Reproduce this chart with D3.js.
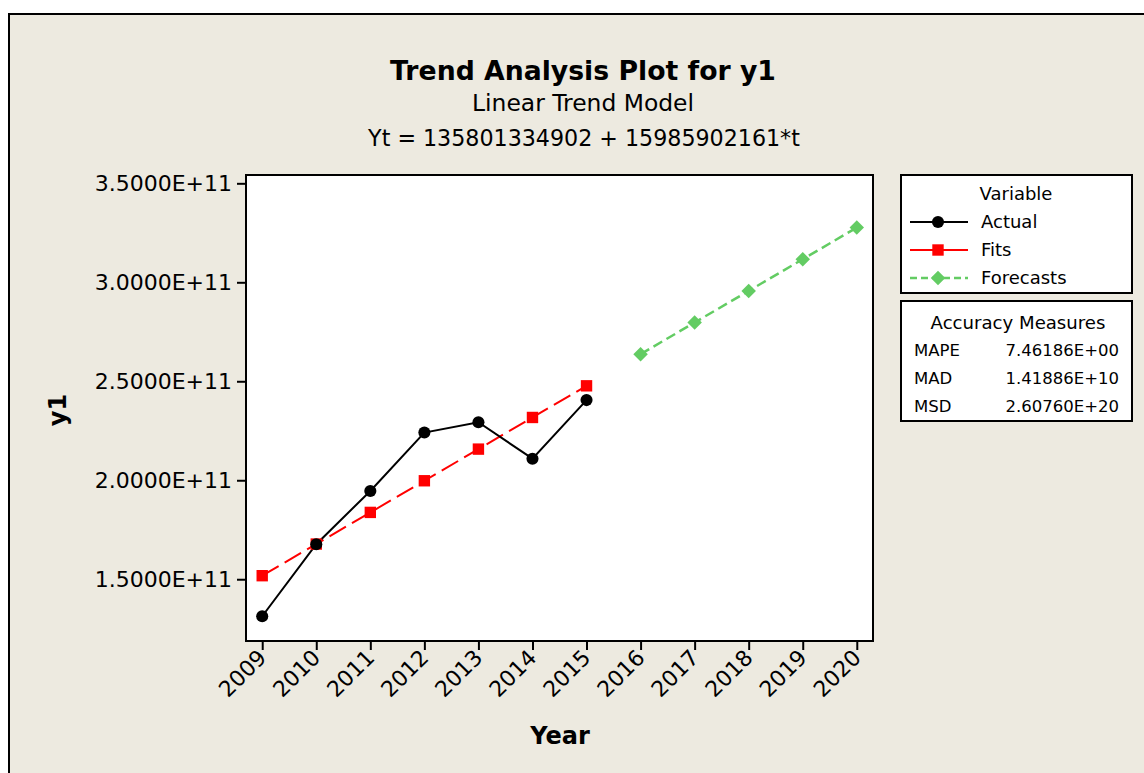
<!DOCTYPE html>
<html>
<head>
<meta charset="utf-8">
<script src="https://cdn.jsdelivr.net/npm/d3@7"></script>
<style>
  html, body { margin: 0; padding: 0; background: #ffffff; }
  svg { display: block; font-family: "DejaVu Sans", Verdana, sans-serif; }
</style>
</head>
<body>
<svg id="chart" width="1144" height="773"></svg>
<script>
// ---------- data ----------
const years = [2009, 2010, 2011, 2012, 2013, 2014, 2015, 2016, 2017, 2018, 2019, 2020];
const actualYears = [2009, 2010, 2011, 2012, 2013, 2014, 2015];
const actualValues = [1.313e11, 1.677e11, 1.946e11, 2.241e11, 2.293e11, 2.109e11, 2.405e11];
const fitValues = [151787237063, 167773139224, 183759041385, 199744943546, 215730845707, 231716747868, 247702650029];
const forecastYears = [2016, 2017, 2018, 2019, 2020];
const forecastValues = [263688552190, 279674454351, 295660356512, 311646258673, 327632160834];
const yTicks = [1.5e11, 2.0e11, 2.5e11, 3.0e11, 3.5e11];
const titleText = "Trend Analysis Plot for y1";
const subtitleText = "Linear Trend Model";
const equationText = "Yt = 135801334902 + 15985902161*t";
const legendTitle = "Variable";
const legendNames = ["Actual", "Fits", "Forecasts"];
const accuracyTitle = "Accuracy Measures";
const accuracyNames = ["MAPE", "MAD", "MSD"];
const accuracyValues = ["7.46186E+00", "1.41886E+10", "2.60760E+20"];

// ---------- layout ----------
const svg = d3.select("#chart");
const bg = "#EDEAE0";
const plot = { left: 246, right: 873, top: 175, bottom: 641 };
const red = "#FF0000", green = "#63CC63";

svg.append("rect").attr("x", 0).attr("y", 0).attr("width", 1144).attr("height", 773).attr("fill", "#ffffff");
svg.append("rect").attr("x", 9).attr("y", 14).attr("width", 1144).attr("height", 773).attr("fill", bg)
  .attr("stroke", "#000").attr("stroke-width", 2);

function fitText(sel, target) {
  const size = parseFloat(sel.attr("font-size"));
  const w = sel.node().getComputedTextLength();
  if (w > 0) sel.attr("font-size", (size * target / w).toFixed(2));
}

// titles
const t1 = svg.append("text").attr("x", 583).attr("y", 80).attr("text-anchor", "middle")
  .attr("font-size", 24).attr("font-weight", "bold").attr("fill", "#000").text(titleText);
fitText(t1, 386);
const t2 = svg.append("text").attr("x", 583).attr("y", 111).attr("text-anchor", "middle")
  .attr("font-size", 20).attr("fill", "#000").text(subtitleText);
fitText(t2, 222);
const t3 = svg.append("text").attr("x", 584).attr("y", 146).attr("text-anchor", "middle")
  .attr("font-size", 20).attr("fill", "#000").text(equationText);
fitText(t3, 432);

// scales
const x = d3.scaleLinear().domain([2008.7, 2020.3]).range([plot.left, plot.right]);
const y = d3.scaleLinear().domain([1.188e11, 3.542e11]).range([plot.bottom, plot.top]);

// plot area
svg.append("rect").attr("x", plot.left).attr("y", plot.top)
  .attr("width", plot.right - plot.left).attr("height", plot.bottom - plot.top)
  .attr("fill", "#ffffff");

// axes
const yAxis = d3.axisLeft(y).tickValues(yTicks).tickSize(9).tickPadding(5)
  .tickFormat(d => (d / 1e11).toFixed(4) + "E+11");
const gy = svg.append("g").attr("transform", `translate(${plot.left},0)`).call(yAxis);
gy.select(".domain").remove();
gy.selectAll(".tick line").attr("stroke", "#000").attr("stroke-width", 2);
gy.selectAll(".tick text").attr("font-size", 22).attr("fill", "#000")
  .attr("font-family", "DejaVu Sans, Verdana, sans-serif");

const xAxis = d3.axisBottom(x).tickValues(years).tickSize(9).tickFormat(d3.format("d"));
const gx = svg.append("g").attr("transform", `translate(0,${plot.bottom})`).call(xAxis);
gx.select(".domain").remove();
gx.selectAll(".tick line").attr("stroke", "#000").attr("stroke-width", 2);
gx.selectAll(".tick text").attr("font-size", 22).attr("fill", "#000")
  .attr("font-family", "DejaVu Sans, Verdana, sans-serif")
  .attr("text-anchor", "end").attr("dy", null).attr("y", 0)
  .attr("transform", "translate(5,18) rotate(-45)");

// frame
svg.append("rect").attr("x", plot.left).attr("y", plot.top)
  .attr("width", plot.right - plot.left).attr("height", plot.bottom - plot.top)
  .attr("fill", "none").attr("stroke", "#000").attr("stroke-width", 2);

// axis titles
svg.append("text").attr("x", 560).attr("y", 744).attr("text-anchor", "middle")
  .attr("font-size", 24).attr("font-weight", "bold").attr("fill", "#000").text("Year");
svg.append("text").attr("transform", "translate(66,410) rotate(-90)").attr("text-anchor", "middle")
  .attr("font-size", 24).attr("font-weight", "bold").attr("fill", "#000").text("y1");

// series
const line = d3.line().x(d => x(d[0])).y(d => y(d[1]));
const actualData = actualYears.map((yr, i) => [yr, actualValues[i]]);
const fitData = actualYears.map((yr, i) => [yr, fitValues[i]]);
const fcData = forecastYears.map((yr, i) => [yr, forecastValues[i]]);

svg.append("path").datum(fitData).attr("d", line).attr("fill", "none")
  .attr("stroke", red).attr("stroke-width", 2).attr("stroke-dasharray", "19,7");
svg.append("path").datum(fcData).attr("d", line).attr("fill", "none")
  .attr("stroke", green).attr("stroke-width", 2.5).attr("stroke-dasharray", "10,5");
svg.append("path").datum(actualData).attr("d", line).attr("fill", "none")
  .attr("stroke", "#000").attr("stroke-width", 2);

const sq = d3.symbol().type(d3.symbolSquare).size(130);
const circ = d3.symbol().type(d3.symbolCircle).size(115);
const dia = d3.symbol().type(d3.symbolSquare).size(105);

svg.append("g").selectAll("path").data(fitData).join("path")
  .attr("d", sq).attr("transform", d => `translate(${x(d[0])},${y(d[1])})`).attr("fill", red);
svg.append("g").selectAll("path").data(actualData).join("path")
  .attr("d", circ).attr("transform", d => `translate(${x(d[0])},${y(d[1])})`).attr("fill", "#000");
svg.append("g").selectAll("path").data(fcData).join("path")
  .attr("d", dia).attr("transform", d => `translate(${x(d[0])},${y(d[1])}) rotate(45)`).attr("fill", green);

// legend box
const lg = { x: 901, y: 175, w: 231, h: 118 };
svg.append("rect").attr("x", lg.x).attr("y", lg.y).attr("width", lg.w).attr("height", lg.h)
  .attr("fill", "#fff").attr("stroke", "#000").attr("stroke-width", 2);
svg.append("text").attr("x", 1016).attr("y", 200).attr("text-anchor", "middle")
  .attr("font-size", 18).attr("fill", "#000").text(legendTitle);
const legStyles = [
  { color: "#000", dash: null, sym: circ, rot: 0, w: 2 },
  { color: red, dash: null, sym: sq, rot: 0, w: 2 },
  { color: green, dash: "7,4", sym: dia, rot: 45, w: 2.5 }
];
legendNames.forEach((name, i) => {
  const cy = 222 + i * 28;
  const s = legStyles[i];
  svg.append("line").attr("x1", 910).attr("x2", 968).attr("y1", cy).attr("y2", cy)
    .attr("stroke", s.color).attr("stroke-width", s.w).attr("stroke-dasharray", s.dash);
  svg.append("path").attr("d", s.sym).attr("transform", `translate(938,${cy}) rotate(${s.rot})`).attr("fill", s.color);
  svg.append("text").attr("x", 981).attr("y", cy + 6).attr("font-size", 18).attr("fill", "#000").text(name);
});

// accuracy box
const ac = { x: 901, y: 301, w: 231, h: 120 };
svg.append("rect").attr("x", ac.x).attr("y", ac.y).attr("width", ac.w).attr("height", ac.h)
  .attr("fill", "#fff").attr("stroke", "#000").attr("stroke-width", 2);
const at = svg.append("text").attr("x", 1018).attr("y", 329).attr("text-anchor", "middle")
  .attr("font-size", 18).attr("fill", "#000").text(accuracyTitle);
fitText(at, 175);
accuracyNames.forEach((name, i) => {
  const cy = 350 + i * 28;
  svg.append("text").attr("x", 914).attr("y", cy + 6).attr("font-size", 16.5).attr("fill", "#000").text(name);
  svg.append("text").attr("x", 1119).attr("y", cy + 6).attr("text-anchor", "end")
    .attr("font-size", 16.5).attr("fill", "#000").text(accuracyValues[i]);
});
</script>
</body>
</html>
